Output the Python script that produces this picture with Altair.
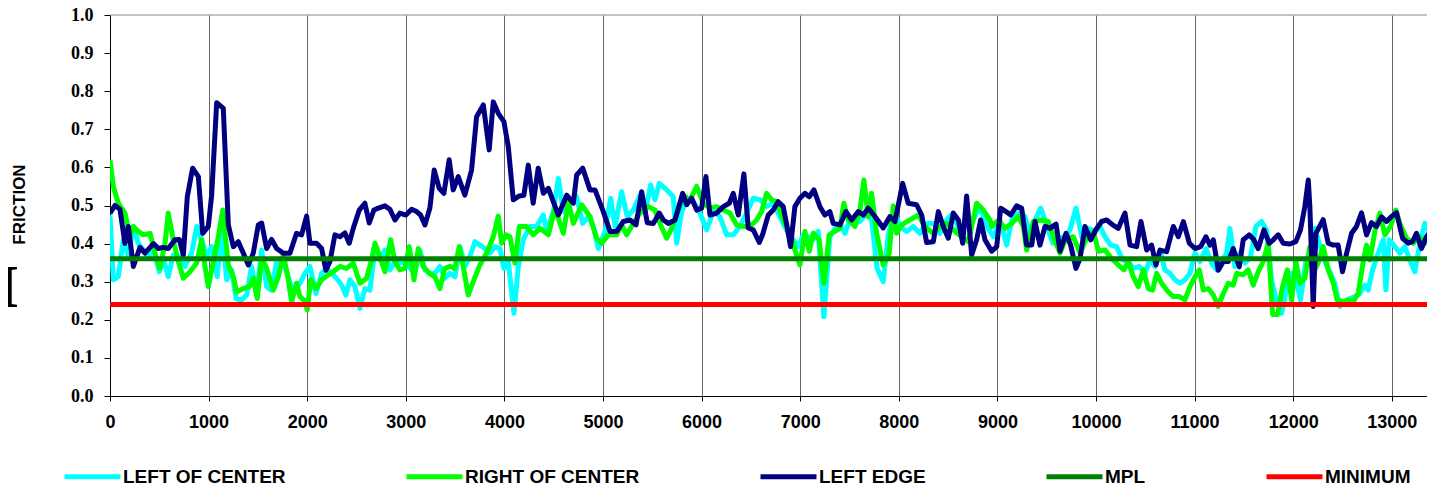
import altair as alt
import pandas as pd

# ---- data (distance, friction) ----
LEFT_OF_CENTER = [
    (0,0.475),(34,0.305),(84,0.313),(135,0.41),(186,0.366),(237,0.445),(287,0.401),(338,0.383),(389,0.366),(440,0.383),
    (500,0.326),(541,0.361),(591,0.313),(642,0.37),(710,0.366),(760,0.34),(828,0.375),(879,0.445),(930,0.41),(980,0.366),
    (1031,0.392),(1088,0.313),(1132,0.445),(1183,0.305),(1234,0.331),(1278,0.256),(1335,0.252),(1386,0.265),(1436,0.34),(1487,0.265),
    (1538,0.383),(1589,0.287),(1639,0.278),(1690,0.353),(1751,0.353),(1808,0.313),(1859,0.269),(1926,0.296),(1977,0.322),(2028,0.34),
    (2089,0.269),(2146,0.322),(2197,0.335),(2247,0.322),(2298,0.309),(2349,0.291),(2392,0.265),(2433,0.305),(2484,0.287),(2535,0.23),
    (2585,0.282),(2636,0.278),(2687,0.383),(2737,0.357),(2788,0.383),(2839,0.331),(2890,0.353),(2940,0.349),(2991,0.353),(3042,0.335),
    (3092,0.322),(3143,0.383),(3194,0.331),(3244,0.322),(3295,0.322),(3346,0.34),(3396,0.309),(3447,0.322),(3498,0.313),(3549,0.392),
    (3599,0.34),(3650,0.366),(3701,0.405),(3752,0.396),(3802,0.387),(3853,0.375),(3904,0.392),(3955,0.387),(3995,0.335),(4039,0.353),
    (4097,0.217),(4141,0.34),(4191,0.41),(4259,0.445),(4326,0.445),(4394,0.475),(4429,0.432),(4497,0.484),(4547,0.571),(4598,0.484),
    (4666,0.51),(4733,0.523),(4794,0.453),(4851,0.471),(4902,0.445),(4953,0.387),(5020,0.432),(5078,0.519),(5122,0.445),(5189,0.536),
    (5246,0.471),(5308,0.488),(5375,0.527),(5426,0.48),(5483,0.554),(5527,0.515),(5571,0.558),(5629,0.545),(5713,0.523),(5747,0.401),
    (5798,0.484),(5849,0.515),(5916,0.51),(5984,0.48),(6051,0.436),(6119,0.484),(6186,0.471),(6254,0.423),(6321,0.423),(6389,0.445),
    (6456,0.48),(6524,0.519),(6591,0.515),(6659,0.497),(6726,0.506),(6794,0.471),(6861,0.436),(6929,0.41),(6980,0.392),(7031,0.423),
    (7082,0.418),(7132,0.41),(7183,0.432),(7240,0.208),(7301,0.418),(7352,0.44),(7403,0.453),(7453,0.427),(7504,0.462),(7555,0.453),
    (7606,0.458),(7673,0.48),(7724,0.462),(7781,0.335),(7842,0.3),(7893,0.423),(7950,0.488),(8011,0.445),(8079,0.432),(8147,0.445),
    (8214,0.427),(8282,0.453),(8350,0.453),(8417,0.427),(8485,0.462),(8553,0.48),(8620,0.427),(8688,0.453),(8756,0.462),(8824,0.497),
    (8891,0.445),(8959,0.418),(9026,0.462),(9094,0.396),(9145,0.462),(9212,0.48),(9280,0.471),(9331,0.423),(9381,0.462),(9439,0.493),
    (9499,0.449),(9561,0.401),(9618,0.414),(9686,0.418),(9736,0.436),(9797,0.493),(9855,0.418),(9922,0.44),(9990,0.432),(10041,0.445),
    (10091,0.418),(10149,0.396),(10209,0.392),(10270,0.357),(10328,0.353),(10378,0.335),(10439,0.34),(10497,0.322),(10547,0.357),(10598,0.34),
    (10649,0.383),(10699,0.331),(10750,0.322),(10801,0.305),(10852,0.296),(10902,0.305),(10953,0.322),(11004,0.375),(11054,0.353),(11115,0.387),
    (11173,0.349),(11223,0.331),(11274,0.353),(11325,0.375),(11358,0.44),(11409,0.34),(11460,0.375),(11510,0.349),(11568,0.366),(11622,0.445),
    (11679,0.458),(11730,0.436),(11781,0.305),(11831,0.247),(11882,0.217),(11933,0.282),(11984,0.322),(12027,0.305),(12074,0.252),(12128,0.353),
    (12186,0.353),(12220,0.44),(12270,0.396),(12321,0.353),(12372,0.326),(12422,0.296),(12473,0.235),(12513,0.247),(12574,0.256),(12625,0.261),
    (12676,0.269),(12727,0.291),(12761,0.278),(12805,0.331),(12862,0.375),(12913,0.41),(12940,0.278),(12973,0.41),(13031,0.392),(13082,0.375),
    (13132,0.392),(13183,0.357),(13234,0.326),(13285,0.401),(13335,0.453),(13386,0.427),(13426,0.445),
]

RIGHT_OF_CENTER = [
    (0,0.62),(34,0.55),(84,0.506),(152,0.48),(203,0.418),(237,0.445),(287,0.432),(338,0.423),(406,0.427),(456,0.375),
    (507,0.335),(558,0.401),(591,0.48),(642,0.41),(693,0.353),(744,0.309),(811,0.326),(879,0.349),(930,0.41),(963,0.34),
    (997,0.287),(1048,0.353),(1099,0.418),(1143,0.488),(1200,0.344),(1251,0.313),(1285,0.273),(1352,0.282),(1413,0.287),(1453,0.309),
    (1494,0.256),(1538,0.361),(1589,0.335),(1656,0.278),(1707,0.313),(1757,0.37),(1798,0.322),(1842,0.247),(1892,0.296),(1926,0.261),
    (1967,0.252),(2001,0.226),(2035,0.305),(2089,0.282),(2146,0.305),(2214,0.318),(2264,0.326),(2332,0.34),(2399,0.335),(2467,0.349),
    (2535,0.296),(2602,0.309),(2653,0.357),(2687,0.401),(2737,0.366),(2788,0.326),(2846,0.41),(2890,0.353),(2940,0.331),(2991,0.335),
    (3035,0.392),(3083,0.305),(3126,0.387),(3177,0.34),(3238,0.322),(3295,0.313),(3346,0.282),(3396,0.335),(3447,0.34),(3498,0.335),
    (3542,0.392),(3582,0.34),(3633,0.265),(3684,0.3),(3752,0.344),(3819,0.375),(3887,0.418),(3938,0.472),(3972,0.401),(4015,0.423),
    (4056,0.418),(4107,0.349),(4151,0.445),(4225,0.445),(4292,0.423),(4360,0.44),(4446,0.423),(4513,0.493),(4598,0.427),(4649,0.51),
    (4699,0.453),(4784,0.502),(4868,0.471),(4936,0.414),(4987,0.401),(5054,0.423),(5139,0.423),(5189,0.449),(5240,0.423),(5308,0.453),
    (5375,0.48),(5460,0.497),(5527,0.488),(5578,0.453),(5645,0.414),(5696,0.44),(5764,0.488),(5815,0.527),(5882,0.515),(5950,0.55),
    (6017,0.506),(6085,0.493),(6152,0.497),(6220,0.488),(6288,0.48),(6355,0.449),(6423,0.445),(6490,0.445),(6558,0.462),(6608,0.484),
    (6659,0.532),(6710,0.515),(6760,0.51),(6811,0.475),(6861,0.445),(6912,0.418),(6946,0.383),(6997,0.344),(7048,0.432),(7092,0.38),
    (7132,0.427),(7193,0.41),(7240,0.296),(7294,0.423),(7352,0.432),(7403,0.44),(7443,0.506),(7487,0.462),(7555,0.445),(7606,0.488),
    (7646,0.567),(7690,0.471),(7724,0.532),(7775,0.427),(7842,0.344),(7903,0.375),(7944,0.499),(7978,0.427),(8029,0.449),(8113,0.462),
    (8197,0.475),(8265,0.445),(8350,0.427),(8417,0.445),(8485,0.453),(8570,0.432),(8637,0.418),(8705,0.405),(8790,0.506),(8857,0.488),
    (8925,0.462),(8942,0.445),(9010,0.462),(9077,0.44),(9145,0.453),(9212,0.471),(9263,0.445),(9297,0.383),(9364,0.458),(9432,0.462),
    (9516,0.458),(9567,0.418),(9635,0.375),(9696,0.414),(9770,0.418),(9838,0.375),(9905,0.414),(9973,0.432),(10024,0.38),(10091,0.383),
    (10159,0.361),(10226,0.344),(10283,0.331),(10328,0.353),(10378,0.313),(10429,0.287),(10480,0.331),(10530,0.282),(10574,0.278),(10615,0.322),
    (10666,0.296),(10733,0.273),(10784,0.261),(10845,0.261),(10902,0.252),(10953,0.287),(11004,0.313),(11048,0.331),(11088,0.278),(11139,0.282),
    (11190,0.265),(11240,0.235),(11291,0.269),(11341,0.296),(11392,0.291),(11426,0.322),(11493,0.318),(11544,0.331),(11595,0.291),(11645,0.326),
    (11696,0.353),(11747,0.401),(11791,0.214),(11842,0.214),(11892,0.287),(11940,0.331),(11984,0.252),(12027,0.353),(12068,0.296),(12118,0.309),
    (12169,0.392),(12203,0.322),(12253,0.349),(12304,0.392),(12355,0.331),(12406,0.296),(12446,0.252),(12507,0.247),(12558,0.252),(12608,0.247),
    (12659,0.269),(12710,0.353),(12744,0.396),(12778,0.357),(12828,0.432),(12879,0.48),(12930,0.423),(12987,0.445),(13041,0.488),(13082,0.453),
    (13149,0.414),(13217,0.401),(13278,0.418),(13335,0.401),(13386,0.418),(13426,0.527),
]

LEFT_EDGE = [
    (0,0.48),(50,0.50),(101,0.49),(152,0.40),(186,0.445),(237,0.34),(304,0.39),(355,0.375),(440,0.40),(490,0.387),
    (540,0.39),(591,0.387),(659,0.41),(703,0.411),(744,0.37),(784,0.523),(838,0.598),(896,0.576),(940,0.427),(997,0.445),
    (1031,0.527),(1082,0.77),(1149,0.755),(1200,0.449),(1251,0.392),(1301,0.405),(1352,0.375),(1403,0.344),(1453,0.375),(1504,0.449),
    (1538,0.454),(1589,0.387),(1639,0.411),(1690,0.387),(1757,0.375),(1825,0.375),(1892,0.427),(1943,0.423),(1994,0.472),(2028,0.401),
    (2095,0.401),(2146,0.387),(2190,0.33),(2231,0.353),(2281,0.423),(2332,0.418),(2383,0.428),(2426,0.401),(2467,0.44),(2528,0.488),
    (2585,0.506),(2629,0.454),(2676,0.488),(2721,0.493),(2788,0.499),(2839,0.49),(2890,0.462),(2940,0.48),(3001,0.475),(3059,0.49),
    (3109,0.484),(3150,0.475),(3194,0.449),(3244,0.493),(3288,0.593),(3339,0.545),(3386,0.532),(3440,0.62),(3481,0.541),(3532,0.576),
    (3599,0.527),(3667,0.593),(3718,0.733),(3786,0.764),(3846,0.646),(3887,0.772),(3938,0.742),(3995,0.72),(4039,0.655),(4090,0.515),
    (4151,0.525),(4198,0.527),(4242,0.606),(4292,0.506),(4343,0.598),(4395,0.532),(4446,0.545),(4547,0.475),(4632,0.527),(4699,0.506),
    (4733,0.58),(4794,0.598),(4868,0.541),(4919,0.541),(5003,0.484),(5071,0.432),(5139,0.432),(5206,0.458),(5274,0.462),(5335,0.449),
    (5392,0.536),(5449,0.455),(5510,0.453),(5571,0.48),(5612,0.462),(5662,0.453),(5730,0.462),(5808,0.532),(5849,0.502),(5899,0.519),
    (5950,0.488),(6000,0.493),(6044,0.576),(6085,0.475),(6152,0.48),(6220,0.497),(6281,0.506),(6321,0.532),(6372,0.475),(6429,0.583),
    (6473,0.441),(6524,0.436),(6585,0.403),(6618,0.423),(6676,0.475),(6726,0.488),(6777,0.51),(6828,0.497),(6861,0.453),(6902,0.392),
    (6946,0.497),(6997,0.519),(7048,0.532),(7092,0.523),(7139,0.541),(7200,0.497),(7250,0.475),(7301,0.484),(7335,0.453),(7403,0.449),
    (7464,0.484),(7521,0.462),(7589,0.484),(7640,0.475),(7690,0.493),(7758,0.471),(7842,0.441),(7910,0.471),(7961,0.458),(8039,0.558),
    (8096,0.506),(8181,0.502),(8232,0.475),(8282,0.403),(8350,0.405),(8401,0.484),(8451,0.445),(8502,0.414),(8553,0.48),(8604,0.462),
    (8648,0.401),(8688,0.525),(8739,0.37),(8790,0.411),(8830,0.462),(8874,0.41),(8942,0.38),(8993,0.392),(9033,0.493),(9087,0.484),
    (9135,0.475),(9195,0.499),(9246,0.493),(9297,0.396),(9348,0.396),(9381,0.458),(9432,0.396),(9483,0.445),(9534,0.44),(9595,0.451),
    (9635,0.38),(9696,0.427),(9743,0.396),(9797,0.335),(9838,0.361),(9888,0.445),(9946,0.41),(10000,0.437),(10057,0.458),(10108,0.462),
    (10169,0.449),(10226,0.44),(10294,0.48),(10345,0.396),(10412,0.392),(10456,0.458),(10514,0.383),(10564,0.396),(10608,0.344),(10649,0.383),
    (10716,0.379),(10784,0.445),(10835,0.418),(10886,0.458),(10947,0.401),(11004,0.387),(11061,0.392),(11115,0.418),(11156,0.396),(11190,0.41),
    (11240,0.33),(11291,0.353),(11341,0.353),(11392,0.387),(11453,0.339),(11493,0.41),(11554,0.423),(11601,0.41),(11645,0.387),(11703,0.436),
    (11757,0.401),(11798,0.41),(11848,0.423),(11899,0.401),(11966,0.399),(12027,0.405),(12074,0.436),(12118,0.497),(12153,0.567),(12169,0.497),
    (12203,0.235),(12230,0.427),(12304,0.463),(12355,0.401),(12406,0.396),(12456,0.396),(12500,0.326),(12541,0.374),(12592,0.427),(12642,0.445),
    (12693,0.481),(12744,0.423),(12794,0.455),(12845,0.445),(12896,0.47),(12946,0.458),(12997,0.471),(13048,0.481),(13109,0.414),(13166,0.401),
    (13210,0.405),(13250,0.427),(13301,0.387),(13352,0.418),(13392,0.432),(13419,0.323),
]

MPL_VALUE = 0.36
MINIMUM_VALUE = 0.24
DIST_START = 0
DIST_END = 13426
X_MAX = 13357
TOP_VALUE = 1.0

SERIES = ["LEFT OF CENTER", "RIGHT OF CENTER", "LEFT EDGE", "MPL", "MINIMUM"]
COLORS = ["#00FFFF", "#00FF00", "#000080", "#008000", "#FF0000"]
WIDTHS = [5, 5, 5, 4, 4]
X_TICKS = list(range(0, 14000, 1000))
Y_TICKS = [round(i * 0.1, 1) for i in range(11)]

rows = []
for name, pts in [("LEFT OF CENTER", LEFT_OF_CENTER), ("RIGHT OF CENTER", RIGHT_OF_CENTER), ("LEFT EDGE", LEFT_EDGE)]:
    for d, f in pts:
        rows.append({"dist": d, "friction": f, "series": name})
for name, v in [("MPL", MPL_VALUE), ("MINIMUM", MINIMUM_VALUE)]:
    for d in (DIST_START, DIST_END):
        rows.append({"dist": d, "friction": v, "series": name})
df = pd.DataFrame(rows)

X_SCALE = alt.Scale(domain=[0, X_MAX], nice=False, zero=False)
Y_SCALE = alt.Scale(domain=[0, 1], nice=False)
X_AXIS = alt.Axis(
    values=X_TICKS, format="d", title=None, grid=True, gridColor="#666666", gridWidth=1,
    tickColor="black", tickSize=5, domainColor="black", domainWidth=1,
    labelFont="Liberation Sans", labelFontWeight="bold", labelFontSize=18, labelColor="black",
    labelPadding=12, labelOverlap=False, labelFlush=False,
)
Y_AXIS = alt.Axis(
    values=Y_TICKS, format=".1f", grid=False, title="FRICTION",
    titleFont="Liberation Sans", titleFontWeight="bold", titleFontSize=17, titleColor="black",
    titleAngle=270, titleX=-91, titleY=189, titleAlign="center", titleBaseline="middle",
    tickColor="black", tickSize=6, domainColor="black", domainWidth=1,
    labelFont="Liberation Serif", labelFontWeight="bold", labelFontSize=18, labelColor="black",
    labelPadding=11, labelOverlap=False, labelFlush=False,
)

lines = alt.Chart(df).mark_line(strokeJoin="round", clip=True).encode(
    x=alt.X("dist:Q", scale=X_SCALE, axis=X_AXIS),
    y=alt.Y("friction:Q", scale=Y_SCALE, axis=Y_AXIS),
    color=alt.Color(
        "series:N",
        scale=alt.Scale(domain=SERIES, range=COLORS),
        legend=alt.Legend(
            title=None, orient="none", legendX=-48, legendY=431, direction="horizontal", columns=5,
            symbolType="stroke", symbolSize=3136, symbolStrokeWidth=5,
            labelFont="Liberation Sans", labelFontWeight="bold", labelFontSize=19, labelColor="black",
            labelOffset=0, columnPadding=110, labelLimit=400,
        ),
    ),
    strokeWidth=alt.StrokeWidth("series:N", scale=alt.Scale(domain=SERIES, range=WIDTHS), legend=None),
    order="dist:Q",
)

top_rule = alt.Chart(pd.DataFrame({"friction": [TOP_VALUE]})).mark_rule(color="#888888", strokeWidth=1).encode(
    y=alt.Y("friction:Q", scale=Y_SCALE, axis=Y_AXIS)
)

h_text = alt.Chart(pd.DataFrame({"t": ["H"]})).mark_text(
    font="Liberation Serif", fontWeight="bold", fontSize=62, align="right", baseline="alphabetic", color="black"
).encode(x=alt.value(-92), y=alt.value(292), text="t:N")

chart = alt.layer(lines, top_rule, h_text).properties(
    width=1317, height=381,
    autosize=alt.AutoSizeParams(type="none"),
    padding={"left": 102, "top": 7, "right": 0, "bottom": 90},
).configure_view(stroke=None)

chart.save("out.html", embed_options={"renderer": "svg", "actions": False})
